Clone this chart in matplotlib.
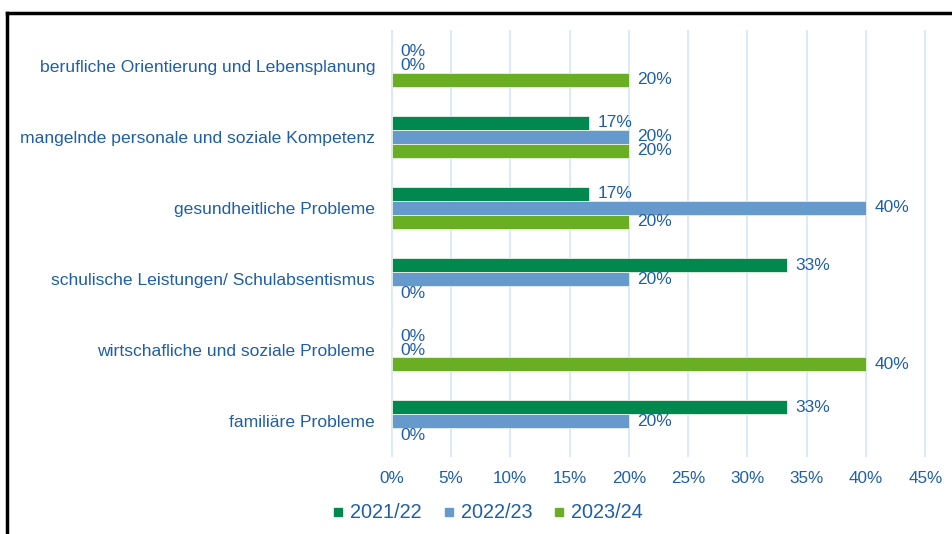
import numpy as np
import matplotlib.pyplot as plt
from matplotlib.lines import Line2D

plt.rcParams['font.family'] = ['Liberation Sans', 'DejaVu Sans']

categories = ['berufliche Orientierung und Lebensplanung',
              'mangelnde personale und soziale Kompetenz',
              'gesundheitliche Probleme',
              'schulische Leistungen/ Schulabsentismus',
              'wirtschafliche und soziale Probleme',
              'familiäre Probleme']
years = ['2021/22', '2022/23', '2023/24']
v2122 = [0, 16.67, 16.67, 33.33, 0, 33.33]
v2223 = [0, 20, 40, 20, 0, 20]
v2324 = [20, 20, 20, 0, 40, 0]
xticks = [0, 5, 10, 15, 20, 25, 30, 35, 40, 45]

colors = ['#00884F', '#6699CC', '#6AAF23']
text_col = '#1F5FA6'
grid_col = '#D5E8F8'

fig = plt.figure(figsize=(9.52, 5.34), dpi=100)
ax = fig.add_axes([391 / 952, 1 - 457 / 534, 535 / 952, 427 / 534])

y = np.arange(len(categories))
h = 0.196
series = [v2122, v2223, v2324]
for k, vals in enumerate(series):
    pos = y + (k - 1) * h
    ax.barh(pos, vals, height=h, color=colors[k], edgecolor='#E6F2E6',
            linewidth=0.6, label=years[k], zorder=3)
    for p, v in zip(pos, vals):
        ax.text(v + 0.7, p, f'{v:.0f}%', va='center', ha='left',
                fontsize=12.5, color=text_col, zorder=4)

ax.set_ylim(len(categories) - 0.5, -0.5)
ax.set_xlim(-0.05, 45.05)
ax.set_xticks(xticks)
ax.set_xticklabels([f'{t}%' for t in xticks], fontsize=12.3, color=text_col)
ax.set_yticks(y)
ax.set_yticklabels(categories, fontsize=12.6, color=text_col)
ax.tick_params(axis='both', length=0)
ax.tick_params(axis='y', pad=11.5)
ax.tick_params(axis='x', pad=10)
ax.xaxis.grid(True, color=grid_col, linewidth=1.3, zorder=0)
ax.set_axisbelow(True)
for s in ax.spines.values():
    s.set_visible(False)

handles = [Line2D([], [], marker='s', linestyle='none', markersize=6, color=c) for c in colors]
fig.legend(handles, years, loc='center', bbox_to_anchor=(488 / 952, 1 - 513 / 534),
           ncol=3, frameon=False, fontsize=14.3, labelcolor=text_col,
           handlelength=0.5, handletextpad=0.35, columnspacing=1.1)

# outer frame (top and left edges visible)
fig.add_artist(Line2D([7 / 952, 1], [1 - 13 / 534, 1 - 13 / 534], color='black', linewidth=2.5))
fig.add_artist(Line2D([7 / 952, 7 / 952], [0, 1 - 13 / 534], color='black', linewidth=2.5))

fig.savefig('out.png', dpi=100)
